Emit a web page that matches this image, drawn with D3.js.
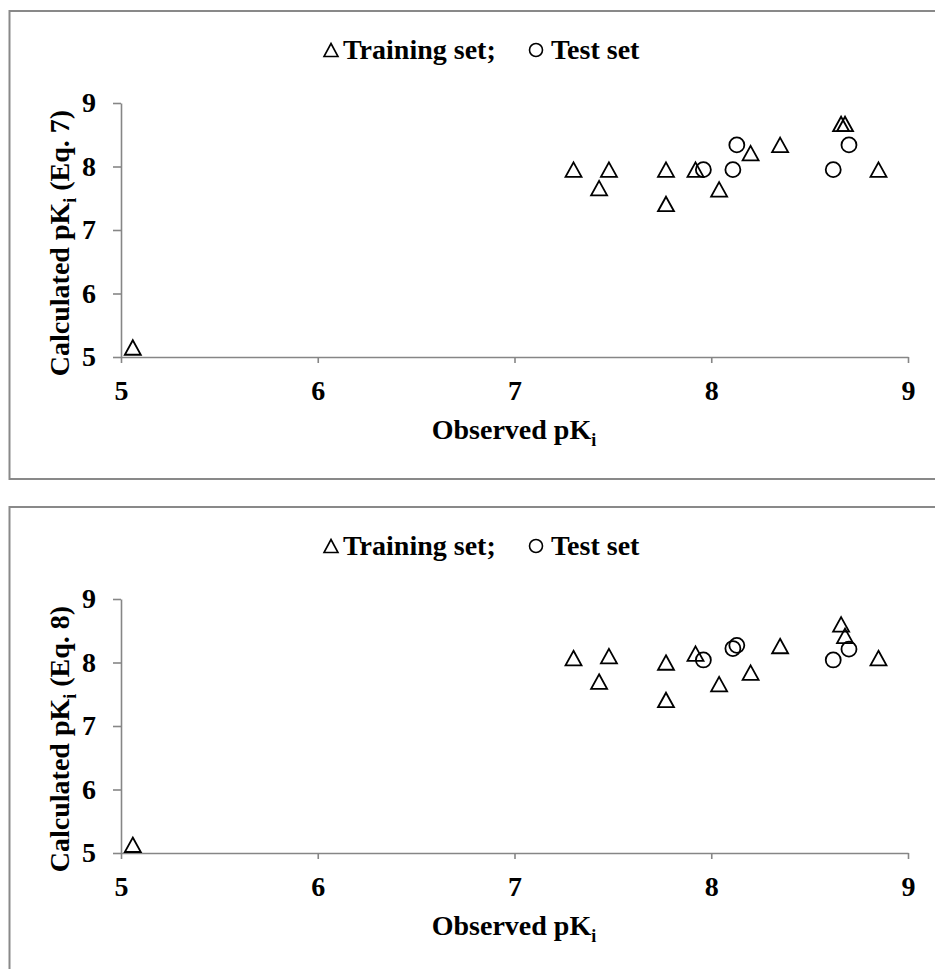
<!DOCTYPE html>
<html>
<head>
<meta charset="utf-8">
<script src="https://cdn.jsdelivr.net/npm/d3@7"></script>
<style>
  body { margin: 0; background: #fff; }
  svg { display: block; }
  text { font-family: "Times New Roman", "Liberation Serif", serif; font-weight: bold; fill: #000; }
</style>
</head>
<body>
<script>
// Observed vs calculated pKi, two panels (Eq. 7 and Eq. 8)
var W = 935;
var H = 969;

// values
var tickValues = [5, 6, 7, 8, 9];
var trainObs   = [5.06, 7.30, 7.43, 7.48, 7.77, 7.77, 7.92, 8.04, 8.20, 8.35, 8.66, 8.68, 8.85];
var trainEq7   = [5.15, 7.95, 7.66, 7.95, 7.95, 7.41, 7.95, 7.64, 8.21, 8.34, 8.67, 8.67, 7.95];
var trainEq8   = [5.13, 8.07, 7.70, 8.10, 8.00, 7.41, 8.14, 7.66, 7.84, 8.26, 8.60, 8.42, 8.07];
var testObs    = [7.96, 8.11, 8.13, 8.62, 8.70];
var testEq7    = [7.95, 7.95, 8.34, 7.95, 8.34];
var testEq8    = [8.04, 8.22, 8.27, 8.04, 8.21];

var FONT = 28;
var AXIS_COLOR = "#868686";

function main() {
  var svg = d3.select("body").append("svg")
    .attr("width", W)
    .attr("height", H);

  drawPanel(svg, 0, trainEq7, testEq7, "7");
  drawPanel(svg, 496, trainEq8, testEq8, "8");
}

function trianglePath(w, h) {
  //triangle centred on its bounding box
  return "M0," + (-h / 2) + "L" + (w / 2) + "," + (h / 2) + "L" + (-w / 2) + "," + (h / 2) + "Z";
}

function drawPanel(svg, offY, trainCalc, testCalc, eq) {
  var g = svg.append("g").attr("transform", "translate(0," + offY + ")");

  //chart border (runs off the right / bottom edge)
  g.append("rect")
    .attr("x", 9.5).attr("y", 11)
    .attr("width", 960).attr("height", 468)
    .style("fill", "none")
    .style("stroke", "#898989")
    .style("stroke-width", 2);

  var xScale = d3.scaleLinear().domain([5, 9]).range([121, 908]);
  var yScale = d3.scaleLinear().domain([5, 9]).range([357, 103]);

  var xAxis = d3.axisBottom(xScale).tickValues(tickValues)
    .tickSize(6).tickSizeOuter(0).tickPadding(17).tickFormat(d3.format("d"));
  var yAxis = d3.axisLeft(yScale).tickValues(tickValues)
    .tickSize(8).tickSizeOuter(0).tickPadding(17).tickFormat(d3.format("d"));

  var gx = g.append("g").attr("transform", "translate(0," + 357 + ")").call(xAxis);
  var gy = g.append("g").attr("transform", "translate(" + 121 + ",0)").call(yAxis);

  [gx, gy].forEach(function(a) {
    a.select(".domain").style("stroke", AXIS_COLOR).style("stroke-width", 1.6);
    a.selectAll(".tick line").style("stroke", AXIS_COLOR).style("stroke-width", 1.6);
    a.selectAll(".tick text")
      .style("font-family", '"Times New Roman", "Liberation Serif", serif')
      .style("font-weight", "bold")
      .style("font-size", FONT + "px")
      .style("fill", "#000");
  });

  //training set: triangles
  var train = trainObs.map(function(d, i) { return [d, trainCalc[i]]; });
  g.selectAll("path.train")
    .data(train)
    .enter()
    .append("path")
    .attr("class", "train")
    .attr("d", trianglePath(16, 14.5))
    .attr("transform", function(d) {
      return "translate(" + xScale(d[0]) + "," + yScale(d[1]) + ")";
    })
    .style("fill", "none")
    .style("stroke", "#000")
    .style("stroke-width", 1.8);

  //test set: circles
  var test = testObs.map(function(d, i) { return [d, testCalc[i]]; });
  g.selectAll("circle.test")
    .data(test)
    .enter()
    .append("circle")
    .attr("class", "test")
    .attr("cx", function(d) { return xScale(d[0]); })
    .attr("cy", function(d) { return yScale(d[1]); })
    .attr("r", 7.5)
    .style("fill", "none")
    .style("stroke", "#000")
    .style("stroke-width", 1.8);

  //legend
  g.append("path")
    .attr("d", trianglePath(14, 13))
    .attr("transform", "translate(331,50)")
    .style("fill", "none").style("stroke", "#000").style("stroke-width", 1.6);
  g.append("text").attr("x", 343).attr("y", 59)
    .style("font-size", FONT + "px").text("Training set;");
  g.append("circle").attr("cx", 536).attr("cy", 50).attr("r", 6.5)
    .style("fill", "none").style("stroke", "#000").style("stroke-width", 1.6);
  g.append("text").attr("x", 551).attr("y", 59)
    .style("font-size", FONT + "px").text("Test set");

  //x axis title
  var xt = g.append("text")
    .attr("x", 514).attr("y", 439)
    .attr("text-anchor", "middle")
    .style("font-size", FONT + "px");
  xt.append("tspan").text("Observed pK");
  xt.append("tspan").attr("dy", 7).style("font-size", "18px").text("i");

  //y axis title
  var yt = g.append("text")
    .attr("transform", "translate(69,243) rotate(-90)")
    .attr("text-anchor", "middle")
    .style("font-size", FONT + "px");
  yt.append("tspan").text("Calculated pK");
  yt.append("tspan").attr("dy", 7).style("font-size", "18px").text("i");
  yt.append("tspan").attr("dy", -7).text(" (Eq. " + eq + ")");
}

main();
</script>
</body>
</html>
